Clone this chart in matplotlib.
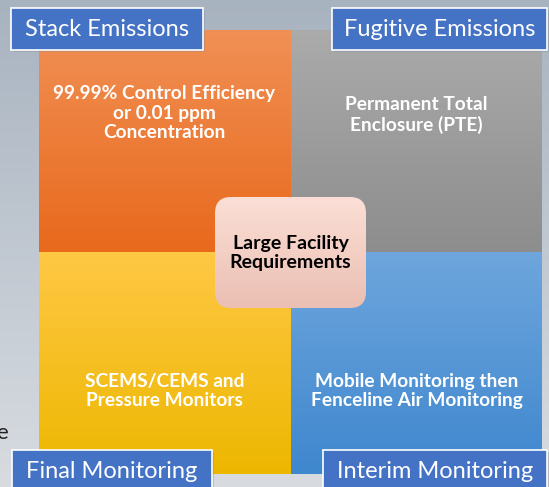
import numpy as np
import matplotlib.pyplot as plt
from matplotlib.colors import to_rgb
from matplotlib.patches import FancyBboxPatch, Rectangle

# Quadrant texts, corner labels and colour stops (top, bottom)
quad_texts = ["99.99% Control Efficiency\nor 0.01 ppm\nConcentration",
              "Permanent Total\nEnclosure (PTE)",
              "SCEMS/CEMS and\nPressure Monitors",
              "Mobile Monitoring then\nFenceline Air Monitoring"]
quad_colors = [("#F19055", "#E8691C"),
               ("#ABABAB", "#8D8D8D"),
               ("#FFC845", "#EDB700"),
               ("#6EA6DD", "#3F87CE")]
corner_labels = ["Stack Emissions", "Fugitive Emissions",
                 "Final Monitoring", "Interim Monitoring"]
center_text = "Large Facility\nRequirements"
center_colors = ("#FBDFD6", "#EBBFB3")
bg_colors = ("#A8B3C0", "#D8DCE1")

W, H = 549, 487
fig = plt.figure(figsize=(W / 100, H / 100), dpi=100)
ax = fig.add_axes([0, 0, 1, 1])
ax.set_xlim(0, W)
ax.set_ylim(H, 0)
ax.axis("off")


def vgrad(c_top, c_bot, extent, clip=None, z=1):
    t = np.linspace(0, 1, 256)[:, None, None]
    img = np.array(to_rgb(c_top)) * (1 - t) + np.array(to_rgb(c_bot)) * t
    im = ax.imshow(img, extent=extent, aspect="auto", zorder=z,
                   interpolation="bilinear")
    if clip is not None:
        im.set_clip_path(clip)
    return im


# background
vgrad(bg_colors[0], bg_colors[1], (0, W, H, 0), z=0)

# quadrants, clipped to one rounded outline
x0, x1, xm = 39, 542, 290.5
y0, y1, ym = 30, 474, 252.5
outer = FancyBboxPatch((x0, y0), x1 - x0, y1 - y0,
                       boxstyle="round,pad=0,rounding_size=12",
                       facecolor="none", edgecolor="none",
                       transform=ax.transData)
ax.add_patch(outer)
cells = [(x0, xm, y0, ym), (xm, x1, y0, ym), (x0, xm, ym, y1), (xm, x1, ym, y1)]
for (ax0, ax1, ay0, ay1), (ct, cb) in zip(cells, quad_colors):
    vgrad(ct, cb, (ax0, ax1, ay1, ay0), clip=outer, z=1)

text_pos = [(164.5, 113), (416.5, 115), (164.5, 391), (416.5, 391)]
for (tx, ty), txt in zip(text_pos, quad_texts):
    ax.text(tx, ty, txt, ha="center", va="center", color="white",
            fontsize=13.8, fontweight="bold", family="Lato",
            linespacing=1.2, zorder=3)

# center box
cbox = FancyBboxPatch((215, 197), 151, 111,
                      boxstyle="round,pad=0,rounding_size=16",
                      facecolor="none", edgecolor="none",
                      transform=ax.transData)
ax.add_patch(cbox)
vgrad(center_colors[0], center_colors[1], (215, 366, 308, 197), clip=cbox, z=4)
ax.text(290.5, 253, center_text, ha="center", va="center", color="black",
        fontsize=14, fontweight="bold", family="Lato", linespacing=1.2,
        zorder=5)

# corner labels
label_boxes = [(11, 8, 192, 42), (332, 8, 215, 42),
               (12, 450, 200, 42), (323, 450, 224, 42)]
for (bx, by, bw, bh), lab in zip(label_boxes, corner_labels):
    ax.add_patch(Rectangle((bx + 2, by + 2), bw, bh, facecolor="#7F8A99",
                           alpha=0.35, edgecolor="none", zorder=6))
    ax.add_patch(Rectangle((bx, by), bw, bh, facecolor="#4472C4",
                           edgecolor="white", linewidth=1.2, zorder=7))
    ax.text(bx + bw / 2, by + 21, lab, ha="center", va="center",
            color="white", fontsize=17, family="Lato", zorder=8)

# stray cut-off letter at left edge
ax.text(-4, 433, "e", ha="left", va="center", color="#222222",
        fontsize=16, family="Lato", zorder=2)

ax.set_xlim(0, W)
ax.set_ylim(H, 0)
fig.savefig("out.png", dpi=100)
